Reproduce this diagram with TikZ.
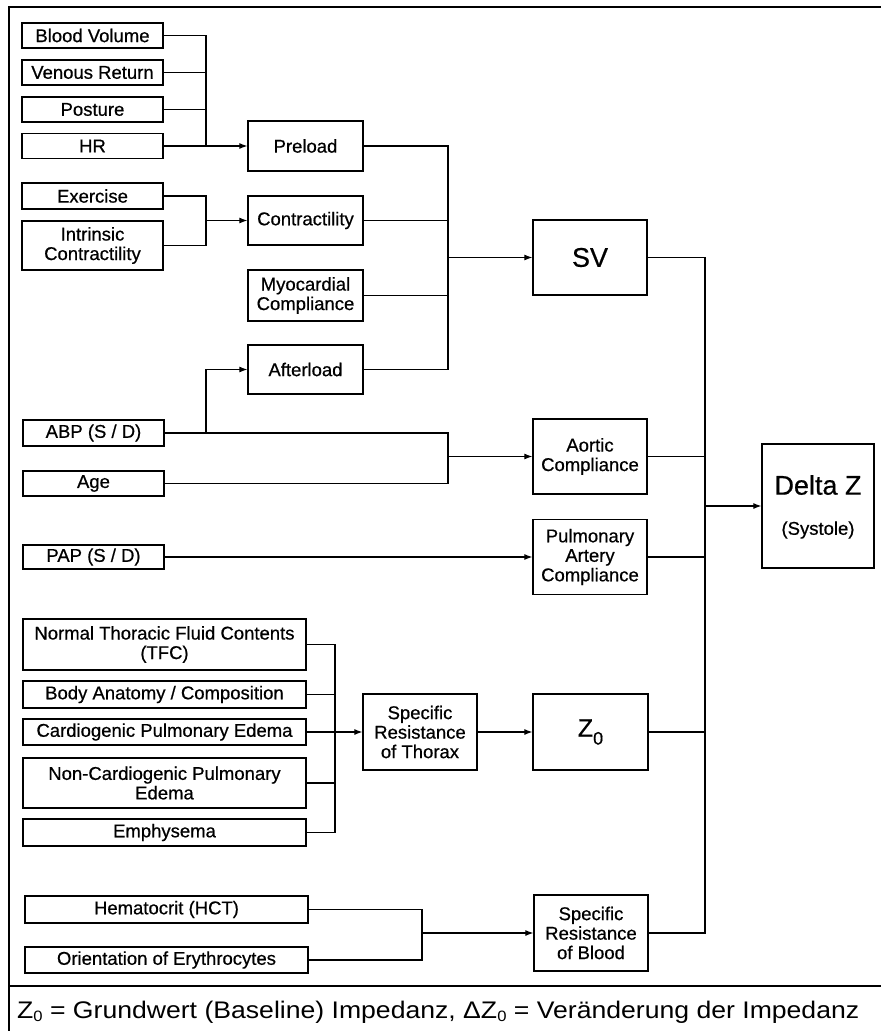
\documentclass[tikz,border=0pt]{standalone}
\usepackage{fontspec}
\usepackage{graphicx}
\setmainfont{Liberation Sans}
\newfontfamily\boxfont[FakeBold=0.6]{Liberation Sans}
\usetikzlibrary{arrows.meta}
\newcommand{\mysub}[3]{\raisebox{-#1}{\fontsize{#2}{#2}\selectfont #3}}
\begin{document}
\begin{tikzpicture}[x=1pt,y=-1pt,
  box/.style={draw, line width=1.3pt, align=center, inner sep=1pt, font=\boxfont\fontsize{18.5}{19.5}\selectfont},
  sz/.style 2 args={minimum width=#1pt, minimum height=#2pt},
  conn/.style={line width=1.1pt},
  arr/.style={conn, -{Latex[length=8pt,width=6pt]}},
  frame/.style={line width=2pt}
]
\useasboundingbox (0,0) rectangle (881,1031);
% frame
\draw[frame] (8,7) -- (881,7);
\draw[frame] (9,6) -- (9,1031);
\draw[line width=1.5pt] (9,986) -- (881,986);

% first column
\node[box,sz={141}{25}] (bv) at (92.5,35.5) {Blood Volume};
\node[box,sz={141}{25}] (vr) at (92.5,72.5) {Venous Return};
\node[box,sz={141}{25}] (po) at (92.5,109.5) {Posture};
\node[box,sz={141}{25}] (hr) at (92.5,146) {HR};
\node[box,sz={141}{26}] (ex) at (92.5,196) {Exercise};
\node[box,sz={141}{49}] (ic) at (92.5,245.5) {Intrinsic\\Contractility};
\node[box,sz={141}{26}] (abp) at (93.5,433) {ABP (S / D)};
\node[box,sz={141}{25}] (age) at (93.5,483.5) {Age};
\node[box,sz={141}{24}] (pap) at (93.5,557) {PAP (S / D)};
\node[box,sz={283}{51}] (ntfc) at (164.5,644.5) {Normal Thoracic Fluid Contents\\(TFC)};
\node[box,sz={283}{27}] (body) at (164.5,694.5) {Body Anatomy / Composition};
\node[box,sz={283}{26}] (cpe) at (164.5,732) {Cardiogenic Pulmonary Edema};
\node[box,sz={283}{50}] (ncpe) at (164.5,783) {Non-Cardiogenic Pulmonary\\Edema};
\node[box,sz={283}{27}] (emp) at (164.5,832.5) {Emphysema};
\node[box,sz={283}{27}] (hct) at (166.5,909.5) {Hematocrit (HCT)};
\node[box,sz={283}{26}] (ori) at (166.5,960) {Orientation of Erythrocytes};

% second column
\node[box,sz={115}{50}] (pre) at (305.5,146) {Preload};
\node[box,sz={115}{49}] (con) at (305.5,220.5) {Contractility};
\node[box,sz={115}{51}] (myo) at (305.5,295.5) {Myocardial\\Compliance};
\node[box,sz={115}{49}] (aft) at (305.5,369.5) {Afterload};
\node[box,sz={114}{76}] (srt) at (420,732) {Specific\\Resistance\\of Thorax};

% third column
\node[box,sz={114}{75},font=\boxfont\fontsize{27}{30}\selectfont] (sv) at (590,257.5) {SV};
\node[box,sz={114}{75}] (aor) at (590,456.5) {Aortic\\Compliance};
\node[box,sz={114}{75}] (pac) at (590,557) {Pulmonary\\Artery\\Compliance};
\node[box,sz={115}{76},font=\boxfont\fontsize{25}{27}\selectfont] (z0) at (590.5,732) {Z\mysub{8pt}{18}{0}};
\node[box,sz={114}{76}] (srb) at (591,933) {Specific\\Resistance\\of Blood};

% result
\node[box,sz={112}{124}] (dz) at (818,506) {};
\node[font=\boxfont\fontsize{27}{30}\selectfont, inner sep=0] (dzt) at (818,485) {Delta Z};
\node[font=\boxfont\fontsize{18.5}{20}\selectfont, inner sep=0] (dzs) at (818,530) {(Systole)};

% connectors: preload group
\coordinate (b1) at (206,146);
\draw[conn] (bv.east) -| (b1);
\draw[conn] (vr.east) -- (vr.east -| b1);
\draw[conn] (po.east) -- (po.east -| b1);
\draw[arr] (hr.east) -- (pre.west);

% contractility group
\coordinate (b2) at (206,220.5);
\draw[conn] (ex.east) -| (b2) |- (ic.east);
\draw[arr] (b2) -- (con.west);

% SV group
\coordinate (b3) at (448,257.5);
\draw[conn] (pre.east) -| (b3) |- (aft.east);
\draw[conn] (con.east) -- (con.east -| b3);
\draw[conn] (myo.east) -- (myo.east -| b3);
\draw[arr] (b3) -- (sv.west);

% aortic group
\coordinate (b4) at (448,456.5);
\coordinate (b5) at (206,433);
\draw[conn] (abp.east) -| (b4) |- (age.east);
\draw[arr] (b4) -- (aor.west);
\draw[arr] (b5) |- (aft.west);

% PAP
\draw[arr] (pap.east) -- (pac.west);

% thorax group
\coordinate (b7) at (335,732);
\draw[conn] (ntfc.east) -| (b7) |- (emp.east);
\draw[conn] (body.east) -- (body.east -| b7);
\draw[conn] (ncpe.east) -- (ncpe.east -| b7);
\draw[arr] (cpe.east) -- (srt.west);
\draw[arr] (srt.east) -- (z0.west);

% blood group
\coordinate (b8) at (422,933);
\draw[conn] (hct.east) -| (b8) |- (ori.east);
\draw[arr] (b8) -- (srb.west);

% Delta Z bus
\coordinate (b6) at (705,506);
\draw[conn] (sv.east) -| (b6) |- (srb.east);
\draw[conn] (aor.east) -- (aor.east -| b6);
\draw[conn] (pac.east) -- (pac.east -| b6);
\draw[conn] (z0.east) -- (z0.east -| b6);
\draw[arr] (b6) -- (dz.west);

% footer
\node[anchor=base west, inner sep=0] (foot) at (17,1018)
  {\resizebox{842pt}{\height}{\fontsize{24}{28}\selectfont Z\mysub{3.5pt}{15}{0} = Grundwert (Baseline) Impedanz, ΔZ\mysub{3.5pt}{15}{0} = Veränderung der Impedanz}};
\end{tikzpicture}
\end{document}
